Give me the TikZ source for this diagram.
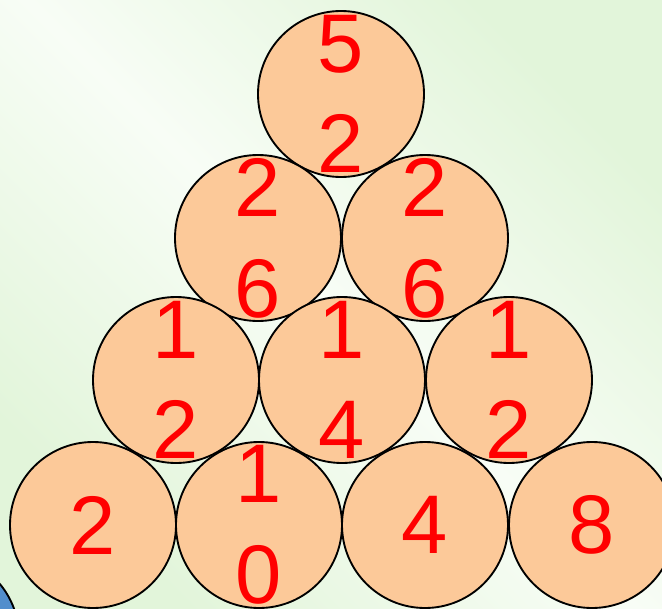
\documentclass[tikz,border=0pt]{standalone}
\usepackage{fontspec}
\setmainfont{Liberation Sans}
\definecolor{ballfill}{RGB}{252,201,153}
\definecolor{bggreen}{RGB}{226,245,218}
\definecolor{bgwhite}{RGB}{248,253,246}
\definecolor{ballblue}{RGB}{82,142,204}
\begin{document}
\begin{tikzpicture}[x=0.03cm, y=-0.03cm,
  ball/.style={circle, draw, line width=1.6pt, fill=ballfill, minimum size=4.98cm, inner sep=0pt},
  num/.style={text=red, align=center, inner sep=0pt, font=\fontsize{71}{86}\selectfont}]
\useasboundingbox (0,0) rectangle (662,609);
\shade[top color=bggreen, bottom color=bggreen, middle color=bgwhite, shading angle=-45] (0,0) rectangle (662,609);
\begin{scope}
\clip (0,0) rectangle (662,609);
\draw[fill=ballblue, line width=1.6pt] (-64,637) circle (83);
\foreach \n/\x/\y in {1/341/94, 2/258/238, 3/425/238, 4/176/380, 5/342/380, 6/509/380, 7/93/525, 8/259/525, 9/425/525, 10/592/525}
  \node[ball] (b\n) at (\x,\y) {};
\foreach \n/\t in {1/{5\\2}, 2/{2\\6}, 3/{2\\6}, 4/{1\\2}, 5/{1\\4}, 6/{1\\2}, 7/{2}, 8/{1\\0}, 9/{4}, 10/{8}}
  \node[num] (t\n) at (b\n) {\t};
\end{scope}
\end{tikzpicture}
\end{document}
